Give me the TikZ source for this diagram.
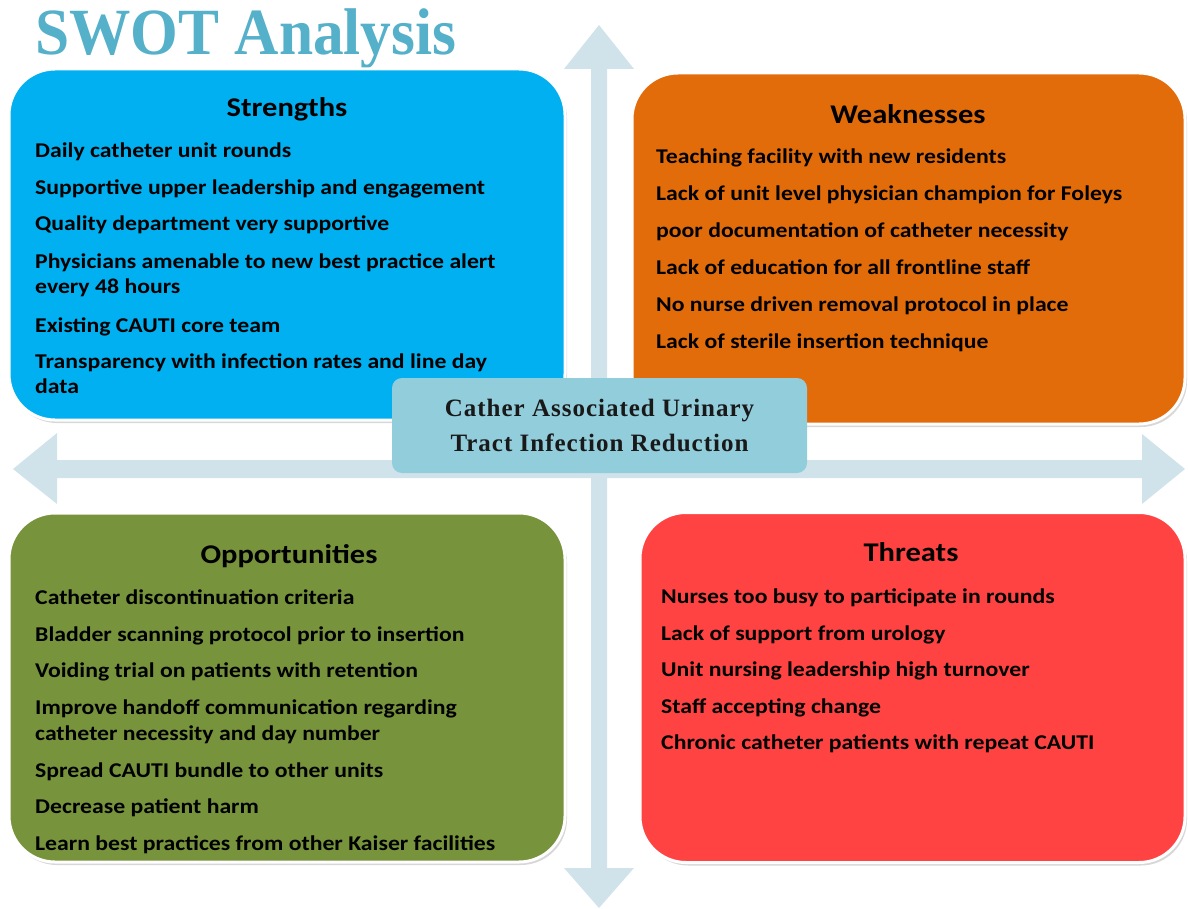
\documentclass[tikz,border=0pt]{standalone}
\usepackage{fontspec}
\setmainfont{Liberation Serif}
\newfontfamily\bodyfont{Carlito}[FakeStretch=1.13]
\newfontfamily\titlefont{Liberation Serif}
\newfontfamily\centerfont{Liberation Serif}[LetterSpace=4]
\usetikzlibrary{shadows}
\definecolor{sblue}{HTML}{00B0F0}
\definecolor{worange}{HTML}{E36C0A}
\definecolor{ogreen}{HTML}{77933C}
\definecolor{tred}{HTML}{FF4343}
\definecolor{arrowc}{HTML}{D0E2EA}
\definecolor{cboxc}{HTML}{92CDDC}
\definecolor{titlec}{HTML}{55B0C9}
\tikzset{
  quad/.style={draw=white, line width=3pt, rounded corners=46pt, inner sep=0pt,
    drop shadow={shadow xshift=2pt, shadow yshift=-3pt, fill=black!35, opacity=0.45}},
  item/.style={anchor=base west, inner sep=0pt, font=\bodyfont\bfseries\fontsize{21}{25}\selectfont},
  head/.style={anchor=base, inner sep=0pt, font=\bodyfont\bfseries\fontsize{27}{32}\selectfont},
  centerbox/.style={fill=cboxc, rounded corners=10pt, inner sep=0pt, align=center,
    font=\centerfont\bfseries\fontsize{25}{35}\selectfont, text=black!90},
}
\begin{document}
\begin{tikzpicture}[x=1pt,y=-1pt]
\useasboundingbox (0,0) rectangle (1188,909);
% axes arrows
\fill[arrowc] (13,469) -- (57,433) -- (57,460) -- (1142,460) -- (1142,434) -- (1185,469)
  -- (1142,504) -- (1142,478) -- (57,478) -- (57,504) -- cycle;
\fill[arrowc] (599,25) -- (634,69) -- (607,69) -- (607,868) -- (634,868) -- (599,908)
  -- (564,868) -- (591,868) -- (591,69) -- (564,69) -- cycle;
% title
\node[anchor=base west, inner sep=0pt, text=titlec, font=\titlefont\bfseries\fontsize{66}{70}\selectfont] (title) at (35,55) {\scalebox{0.93}[1]{SWOT Analysis}};
% quadrants
\node[quad, fill=sblue, minimum width=556pt, minimum height=351pt] (S) at (287,244.5) {};
\node[quad, fill=worange, minimum width=553pt, minimum height=351pt] (W) at (908.5,248.5) {};
\node[quad, fill=ogreen, minimum width=556pt, minimum height=349pt] (O) at (287,687.5) {};
\node[quad, fill=tred, minimum width=545pt, minimum height=350pt] (T) at (912.5,687.5) {};
% Strengths
\node[head] (Sh) at (287,117) {Strengths};
\node[item] (S1) at (35,158) {Daily catheter unit rounds};
\node[item] (S2) at (35,195) {Supportive upper leadership and engagement};
\node[item] (S3) at (35,231) {Quality department very supportive};
\node[item] (S4) at (35,269) {Physicians amenable to new best practice alert};
\node[item] (S4b) at (35,294) {every 48 hours};
\node[item] (S5) at (35,332) {Existing CAUTI core team};
\node[item] (S6) at (35,368) {Transparency with infection rates and line day};
\node[item] (S6b) at (35,393) {data};
% Weaknesses
\node[head] (Wh) at (908,124) {Weaknesses};
\node[item] (W1) at (656,164) {Teaching facility with new residents};
\node[item] (W2) at (656,201) {Lack of unit level physician champion for Foleys};
\node[item] (W3) at (656,238) {poor documentation of catheter necessity};
\node[item] (W4) at (656,274) {Lack of education for all frontline staff};
\node[item] (W5) at (656,311) {No nurse driven removal protocol in place};
\node[item] (W6) at (656,348) {Lack of sterile insertion technique};
% Opportunities
\node[head] (Oh) at (289,563) {Opportunities};
\node[item] (O1) at (35,604) {Catheter discontinuation criteria};
\node[item] (O2) at (35,641) {Bladder scanning protocol prior to insertion};
\node[item] (O3) at (35,677) {Voiding trial on patients with retention};
\node[item] (O4) at (35,714) {Improve handoff communication regarding};
\node[item] (O4b) at (35,740) {catheter necessity and day number};
\node[item] (O5) at (35,777) {Spread CAUTI bundle to other units};
\node[item] (O6) at (35,813) {Decrease patient harm};
\node[item] (O7) at (35,850) {Learn best practices from other Kaiser facilities};
% Threats
\node[head] (Th) at (911,561) {Threats};
\node[item] (T1) at (661,603) {Nurses too busy to participate in rounds};
\node[item] (T2) at (661,640) {Lack of support from urology};
\node[item] (T3) at (661,676) {Unit nursing leadership high turnover};
\node[item] (T4) at (661,713) {Staff accepting change};
\node[item] (T5) at (661,749) {Chronic catheter patients with repeat CAUTI};
% center
\node[centerbox, minimum width=415pt, minimum height=95pt] (C) at (599.5,425.5)
  {Cather Associated Urinary\\Tract Infection Reduction};
\end{tikzpicture}
\end{document}
